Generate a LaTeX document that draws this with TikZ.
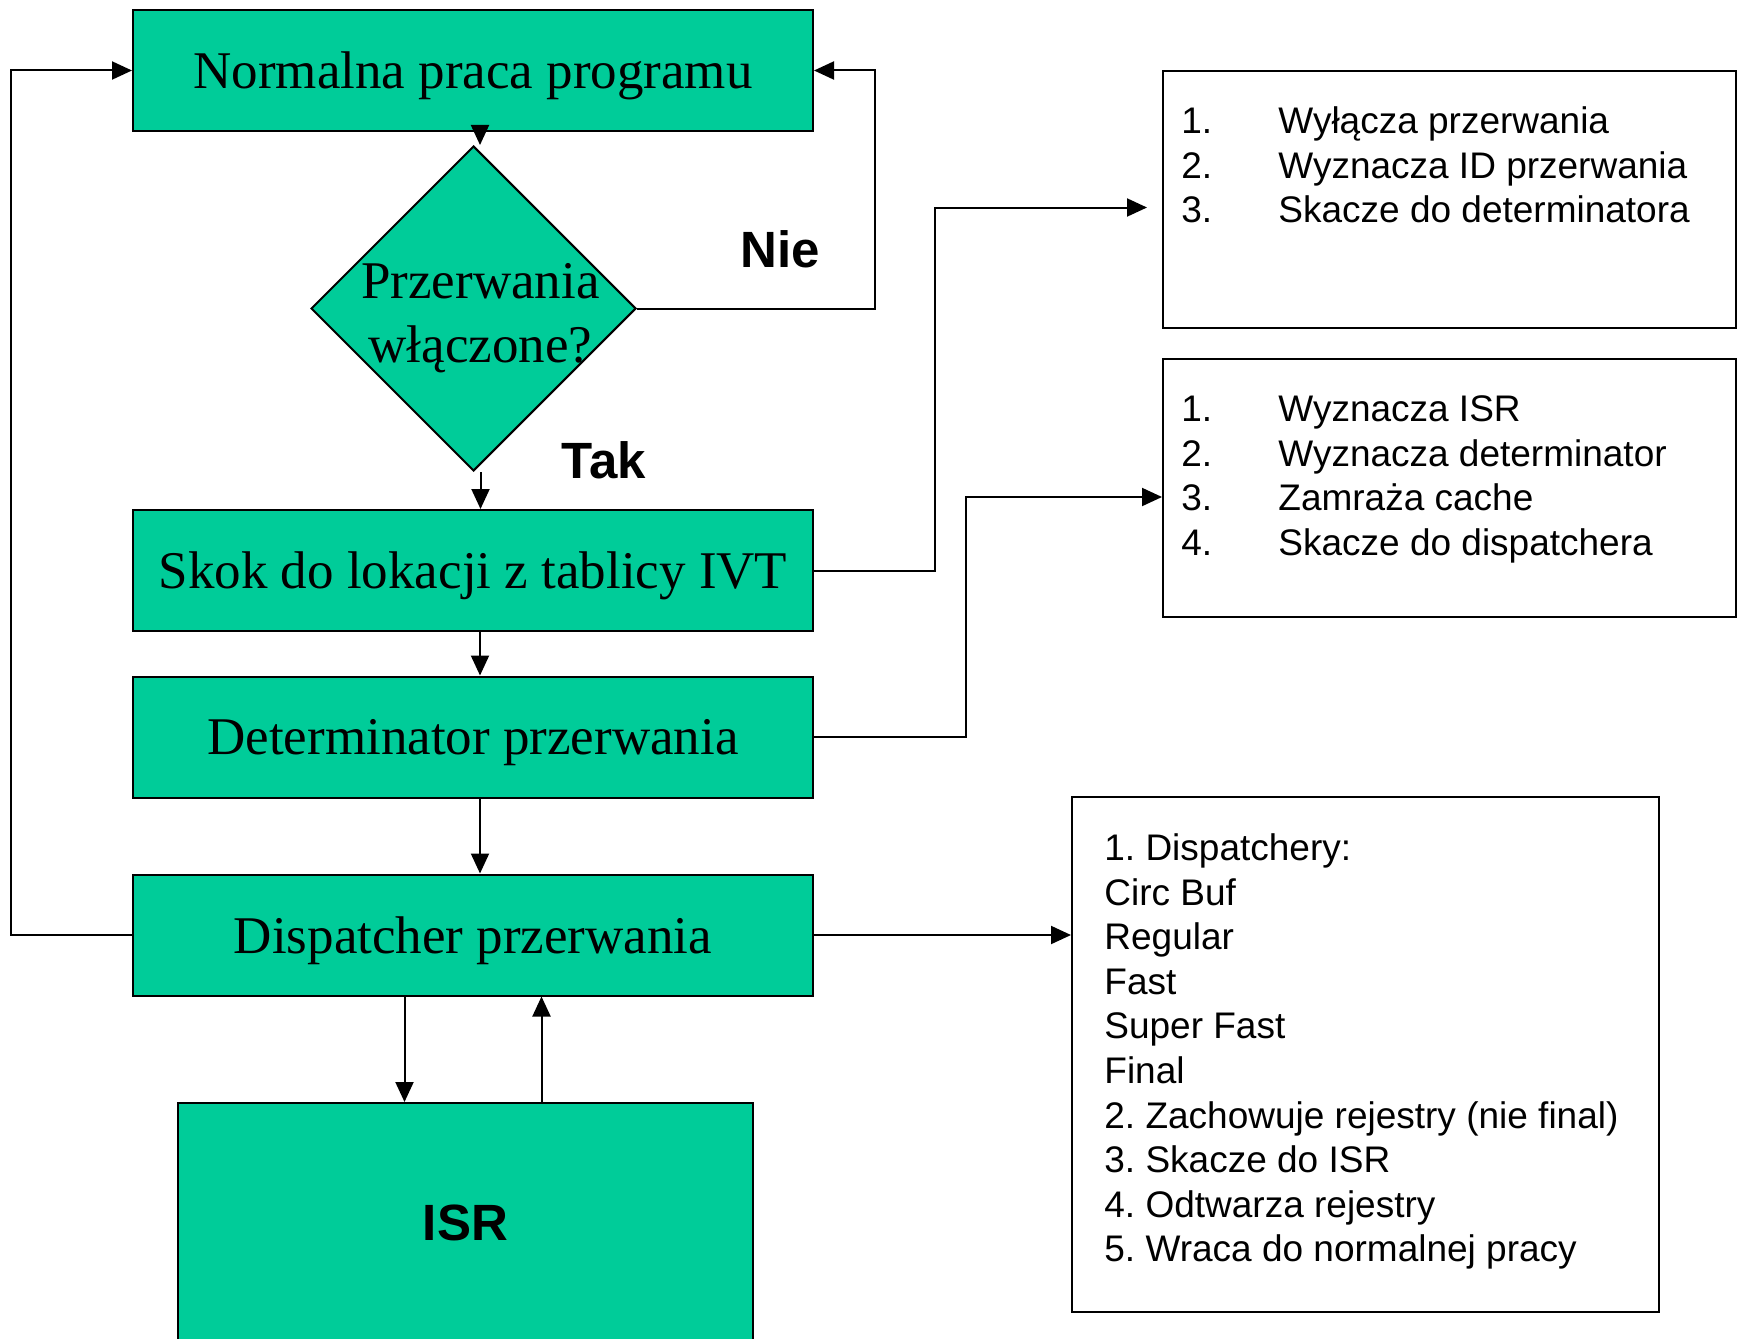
\documentclass[tikz,border=0pt]{standalone}
\usepackage{fontspec}
\setmainfont{Liberation Serif}
\setsansfont{Liberation Sans}
\usetikzlibrary{arrows.meta,shapes.geometric}
\definecolor{procgreen}{RGB}{0,204,153}
\frenchspacing

\begin{document}
\begin{tikzpicture}[x=0.5pt, y=-0.5pt, >={Triangle[length=10pt,width=9pt]},
  procbox/.style={draw, fill=procgreen, line width=1pt, inner sep=0pt, text depth=0pt,
    minimum width=340pt, minimum height=60.5pt, font=\fontsize{26.5}{32}\selectfont},
  notebox/.style={draw, line width=1pt, inner sep=0pt},
  notetext/.style={anchor=base west, inner sep=0pt, font=\sffamily\fontsize{18.5}{22.3}\selectfont},
  answer/.style={inner sep=0pt, font=\sffamily\bfseries\fontsize{25.5}{30}\selectfont},
  link/.style={line width=1pt, ->}]
  \clip (0,0) rectangle (1744,1338);
  % flow column
  \node[procbox] (normal) at (473,70.5) {Normalna praca programu};
  \node[procbox, shape=diamond, minimum width=162.5pt, minimum height=162.5pt,
    label={[align=center, xshift=3.5pt, yshift=-5pt, font=\fontsize{26.5}{32}\selectfont]center:Przerwania\\włączone?}]
    (decision) at (473.5,308.5) {};
  \node[procbox] (skok) at (473,570.5) {Skok do lokacji z tablicy IVT};
  \node[procbox] (det) at (473,737) {Determinator przerwania};
  \node[procbox] (disp) at (473,935) {Dispatcher przerwania};
  \node[procbox, minimum width=287.5pt, minimum height=119.5pt,
    font=\sffamily\bfseries\fontsize{25.5}{30}\selectfont] (isr) at (465.5,1222.5) {ISR};
  \node[answer] (nie) at (780,249) {Nie};
  \node[answer] (tak) at (604,460) {Tak};
  % notes on the right
  \node[notebox, minimum width=286.5pt, minimum height=128.5pt] (box1) at (1449.5,199.5) {};
  \node[notebox, minimum width=286.5pt, minimum height=129pt] (box2) at (1449.5,488) {};
  \node[notebox, minimum width=293.5pt, minimum height=257.5pt] (box3) at (1365.5,1054.5) {};
  \node[notetext] (list1) at (1181,133.5) {\begin{tabular}[t]{@{}p{48.5pt}@{}l@{}}
    1. & Wyłącza przerwania\\
    2. & Wyznacza ID przerwania\\
    3. & Skacze do determinatora
  \end{tabular}};
  \node[notetext] (list2) at (1181,421.5) {\begin{tabular}[t]{@{}p{48.5pt}@{}l@{}}
    1. & Wyznacza ISR\\
    2. & Wyznacza determinator\\
    3. & Zamraża cache\\
    4. & Skacze do dispatchera
  \end{tabular}};
  \node[notetext] (list3) at (1104,860.5) {\begin{tabular}[t]{@{}l@{}}
    1. Dispatchery:\\
    Circ Buf\\
    Regular\\
    Fast\\
    Super Fast\\
    Final\\
    2. Zachowuje rejestry (nie final)\\
    3. Skacze do ISR\\
    4. Odtwarza rejestry\\
    5. Wraca do normalnej pracy
  \end{tabular}};
  % connectors
  \draw[link] ([xshift=3.5pt]normal.south) -- ([xshift=3.5pt]normal.south |- decision.north);
  \draw[link] ([xshift=3.5pt]decision.south) -- ([xshift=3.5pt]decision.south |- skok.north);
  \draw[link] ([xshift=3.5pt]skok.south) -- ([xshift=3.5pt]det.north);
  \draw[link] ([xshift=3.5pt]det.south) -- ([xshift=3.5pt]disp.north);
  \draw[link] (decision.east) -| ([xshift=30.5pt]normal.east) -- (normal.east);
  \draw[link] (disp.west) -| ([xshift=-60.5pt]normal.west) -- (normal.west);
  \draw[link, shorten >=7.5pt] (skok.east) -- ++(121,0) |- ([yshift=-4pt]box1.west);
  \draw[link] (det.east) -- ++(152,0) |- ([yshift=-4.5pt]box2.west);
  \draw[link] (disp.east) -- (disp.east -| box3.west);
  \draw[link] ([xshift=-34.25pt]disp.south) -- ([xshift=-34.25pt]disp.south |- isr.north);
  \draw[link] ([xshift=34.25pt]disp.south |- isr.north) -- ([xshift=34.25pt]disp.south);
\end{tikzpicture}
\end{document}
